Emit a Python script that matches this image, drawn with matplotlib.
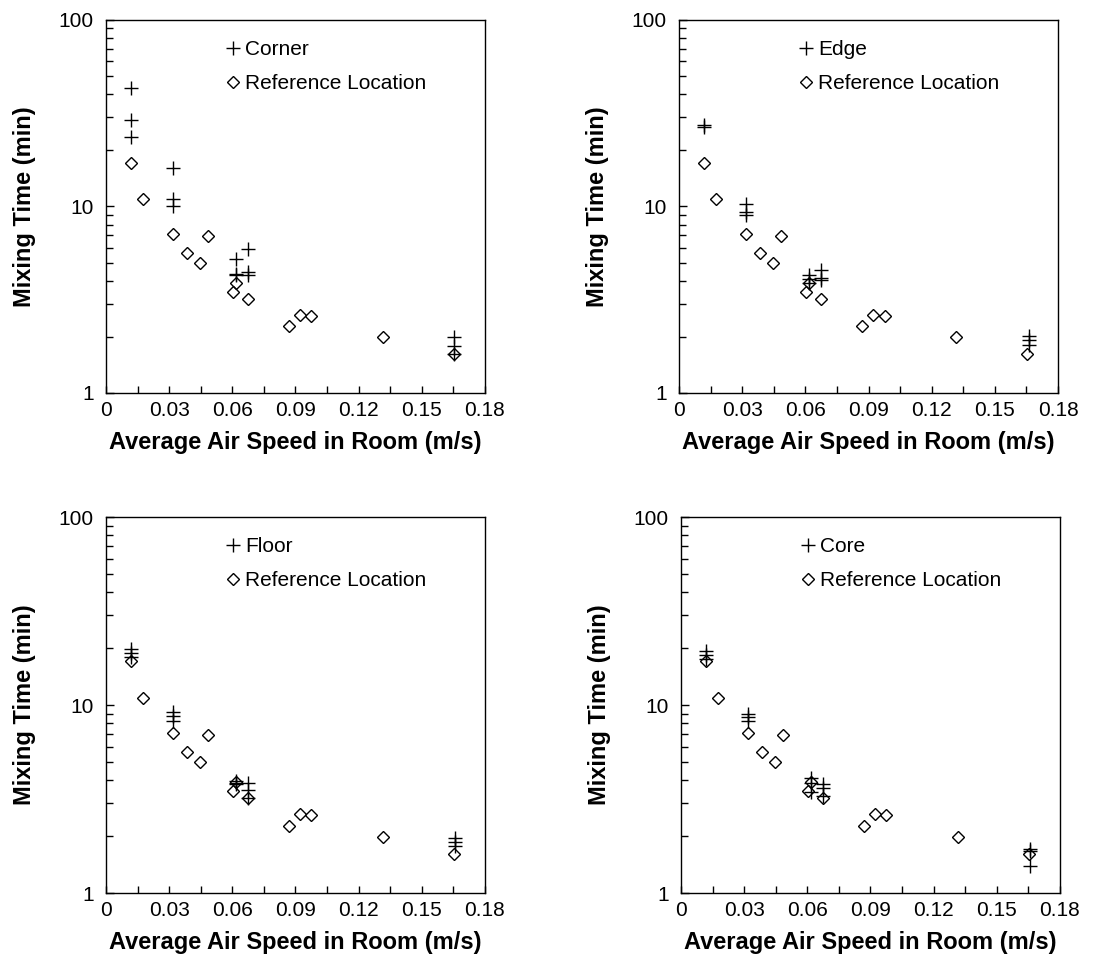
import matplotlib
matplotlib.use("Agg")
import matplotlib.pyplot as plt
from matplotlib.ticker import FixedLocator, NullFormatter, FuncFormatter

plt.rcParams['font.family'] = ['Liberation Sans', 'DejaVu Sans']

# reference location (same in every panel)
ref_x = [0.0117, 0.0177, 0.0316, 0.0385, 0.0445, 0.0485, 0.0602, 0.0617,
         0.0673, 0.0867, 0.0922, 0.0976, 0.1317, 0.1655]
ref_y = [17.1, 10.9, 7.13, 5.66, 5.0, 6.95, 3.47, 3.9,
         3.2, 2.28, 2.62, 2.60, 1.99, 1.62]

# sampling locations
corner_x = [0.0117] * 3 + [0.0316] * 3 + [0.0617] * 3 + [0.0673] * 3 + [0.1655] * 3
corner_y = [43.1, 29.1, 23.7, 16.0, 10.9, 10.1, 5.2, 4.36, 4.3,
            5.95, 4.43, 4.27, 2.0, 1.78, 1.62]

edge_x = [0.0117] * 2 + [0.0316] * 3 + [0.0619] * 3 + [0.0675] * 3 + [0.1660] * 3
edge_y = [27.2, 26.6, 10.3, 9.3, 9.0, 4.3, 4.07, 3.87,
          4.55, 4.12, 4.05, 2.03, 1.93, 1.81]

floor_x = [0.0117] * 3 + [0.0316] * 3 + [0.0617] * 3 + [0.0673] * 3 + [0.1657] * 3
floor_y = [19.8, 19.0, 18.1, 9.17, 8.69, 8.27, 3.95, 3.85, 3.8,
           3.85, 3.55, 3.2, 1.96, 1.86, 1.77]

core_x = [0.0117] * 3 + [0.0316] * 3 + [0.0617] * 3 + [0.0673] * 3 + [0.1657] * 3
core_y = [19.3, 18.5, 17.5, 9.0, 8.6, 8.2, 4.1, 3.85, 3.45,
          3.8, 3.6, 3.3, 1.72, 1.67, 1.40]

panels = [
    ("Corner", corner_x, corner_y),
    ("Edge", edge_x, edge_y),
    ("Floor", floor_x, floor_y),
    ("Core", core_x, core_y),
]

x_major = [0, 0.03, 0.06, 0.09, 0.12, 0.15, 0.18]
x_minor = [0.015, 0.045, 0.075, 0.105, 0.135, 0.165]

fig = plt.figure(figsize=(10.94, 9.73), dpi=100)
rects = [
    [0.0969, 0.5961, 0.3464, 0.3834],
    [0.6207, 0.5961, 0.3464, 0.3834],
    [0.0969, 0.0822, 0.3464, 0.3864],
    [0.6225, 0.0822, 0.3464, 0.3864],
]

for rect, (name, px, py) in zip(rects, panels):
    ax = fig.add_axes(rect)
    ax.plot(px, py, linestyle='none', marker='+', markersize=10,
            markeredgewidth=1.0, color='black', label=name)
    ax.plot(ref_x, ref_y, linestyle='none', marker='D', markersize=6.5,
            markerfacecolor='none', markeredgecolor='black',
            markeredgewidth=1.0, label='Reference Location')

    ax.set_yscale('log')
    ax.set_ylim(1, 100)
    ax.set_xlim(0, 0.18)

    ax.xaxis.set_major_locator(FixedLocator(x_major))
    ax.xaxis.set_minor_locator(FixedLocator(x_minor))
    ax.xaxis.set_major_formatter(FuncFormatter(lambda v, p: '0' if v == 0 else f'{v:.2f}'))
    ax.yaxis.set_major_formatter(FuncFormatter(lambda v, p: f'{v:g}'))
    ax.yaxis.set_minor_formatter(NullFormatter())

    ax.tick_params(which='both', direction='in', top=False, right=False,
                   labelsize=15, width=1.0, colors='black')
    ax.tick_params(axis='x', which='both', length=5, pad=6)
    ax.tick_params(axis='y', which='major', length=6, pad=9)
    ax.tick_params(axis='y', which='minor', length=5)
    for sp in ax.spines.values():
        sp.set_linewidth(1.0)

    ax.set_xlabel('Average Air Speed in Room (m/s)', fontsize=17, fontweight='bold', labelpad=8)
    ax.set_ylabel('Mixing Time (min)', fontsize=17, fontweight='bold', labelpad=16)

    ax.legend(loc='upper left', bbox_to_anchor=(0.27, 0.99), frameon=False,
              fontsize=15, handlelength=0.8, handletextpad=0.15,
              labelspacing=0.7, borderpad=0.3, numpoints=1)

fig.savefig('out.png', dpi=100, facecolor='white')
